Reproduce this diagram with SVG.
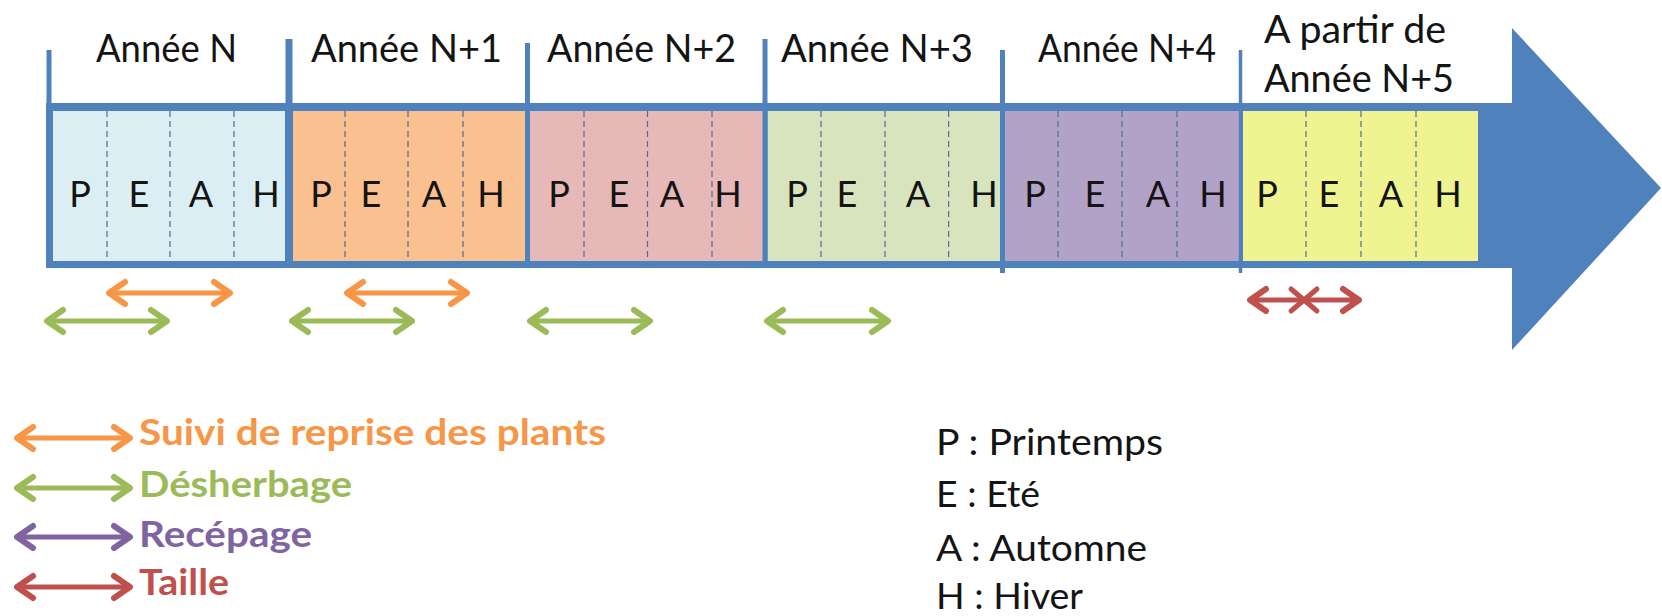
<svg xmlns="http://www.w3.org/2000/svg" width="1662" height="616" viewBox="0 0 1662 616">
<style>
text { font-family: Lato, "Open Sans", "Liberation Sans", sans-serif; fill: #141414; }
.yl { font-size: 38px; }
.s { font-size: 36px; text-anchor: middle; }
.lg { font-size: 36px; font-weight: bold; }
.lk { font-size: 36px; }
.cell { stroke: none; }
.dash { stroke: #4f6c95; stroke-width: 1.2; stroke-dasharray: 6 4; }
.div { stroke: #4F81BD; fill: none; }
.act { fill: none; stroke-width: 5; }
.or { stroke: #F79646; }
.gr { stroke: #9BBB59; }
.pu { stroke: #8064A2; }
.rd { stroke: #C0504D; }
</style>
<defs>
<marker id="hOr" viewBox="0 0 22 28" refX="19" refY="14" markerWidth="22" markerHeight="28" markerUnits="userSpaceOnUse" orient="auto-start-reverse" overflow="visible"><path d="M3,3 L19,14 L3,25" fill="none" stroke="#F79646" stroke-width="6" stroke-linecap="round" stroke-linejoin="round"/></marker>
<marker id="hGr" viewBox="0 0 22 28" refX="19" refY="14" markerWidth="22" markerHeight="28" markerUnits="userSpaceOnUse" orient="auto-start-reverse" overflow="visible"><path d="M3,3 L19,14 L3,25" fill="none" stroke="#9BBB59" stroke-width="6" stroke-linecap="round" stroke-linejoin="round"/></marker>
<marker id="hPu" viewBox="0 0 22 28" refX="19" refY="14" markerWidth="22" markerHeight="28" markerUnits="userSpaceOnUse" orient="auto-start-reverse" overflow="visible"><path d="M3,3 L19,14 L3,25" fill="none" stroke="#8064A2" stroke-width="6" stroke-linecap="round" stroke-linejoin="round"/></marker>
<marker id="hRd" viewBox="0 0 22 28" refX="19" refY="14" markerWidth="22" markerHeight="28" markerUnits="userSpaceOnUse" orient="auto-start-reverse" overflow="visible"><path d="M3,3 L19,14 L3,25" fill="none" stroke="#C0504D" stroke-width="6" stroke-linecap="round" stroke-linejoin="round"/></marker>
</defs>

<g id="timeline-arrow">
<path d="M46,103 H1512 V28 L1661,188 L1512,350 V268 H46 Z" fill="#4F81BD"/>
</g>

<g id="year-N">
<rect class="cell" x="53" y="111" width="232" height="150" fill="#DBEEF4"/>
<line class="dash" x1="107" y1="111" x2="107" y2="261"/>
<line class="dash" x1="170" y1="111" x2="170" y2="261"/>
<line class="dash" x1="234" y1="111" x2="234" y2="261"/>
<text class="s" x="80" y="207">P</text><text class="s" x="139" y="207">E</text><text class="s" x="201" y="207">A</text><text class="s" x="266" y="207">H</text>
<text class="yl" x="96" y="62" textLength="141" lengthAdjust="spacingAndGlyphs">Année N</text>
</g>

<g id="year-N1">
<rect class="cell" x="293" y="111" width="232" height="150" fill="#FAC090"/>
<line class="dash" x1="345" y1="111" x2="345" y2="261"/>
<line class="dash" x1="408" y1="111" x2="408" y2="261"/>
<line class="dash" x1="463" y1="111" x2="463" y2="261"/>
<text class="s" x="321" y="207">P</text><text class="s" x="371" y="207">E</text><text class="s" x="434" y="207">A</text><text class="s" x="491" y="207">H</text>
<text class="yl" x="311" y="62" textLength="191" lengthAdjust="spacingAndGlyphs">Année N+1</text>
</g>

<g id="year-N2">
<rect class="cell" x="530" y="111" width="233" height="150" fill="#E6B9B8"/>
<line class="dash" x1="584" y1="111" x2="584" y2="261"/>
<line class="dash" x1="647.5" y1="111" x2="647.5" y2="261"/>
<line class="dash" x1="712" y1="111" x2="712" y2="261"/>
<text class="s" x="559" y="207">P</text><text class="s" x="619" y="207">E</text><text class="s" x="672" y="207">A</text><text class="s" x="728" y="207">H</text>
<text class="yl" x="547" y="62" textLength="189" lengthAdjust="spacingAndGlyphs">Année N+2</text>
</g>

<g id="year-N3">
<rect class="cell" x="767.5" y="111" width="232.5" height="150" fill="#D7E4BD"/>
<line class="dash" x1="821" y1="111" x2="821" y2="261"/>
<line class="dash" x1="885" y1="111" x2="885" y2="261"/>
<line class="dash" x1="948.6" y1="111" x2="948.6" y2="261"/>
<text class="s" x="797" y="207">P</text><text class="s" x="847" y="207">E</text><text class="s" x="918" y="207">A</text><text class="s" x="984" y="207">H</text>
<text class="yl" x="781" y="62" textLength="192" lengthAdjust="spacingAndGlyphs">Année N+3</text>
</g>

<g id="year-N4">
<rect class="cell" x="1005" y="111" width="234" height="150" fill="#B3A2C7"/>
<line class="dash" x1="1058" y1="111" x2="1058" y2="261"/>
<line class="dash" x1="1122" y1="111" x2="1122" y2="261"/>
<line class="dash" x1="1177" y1="111" x2="1177" y2="261"/>
<text class="s" x="1035" y="207">P</text><text class="s" x="1095" y="207">E</text><text class="s" x="1158" y="207">A</text><text class="s" x="1213" y="207">H</text>
<text class="yl" x="1038" y="62" textLength="178" lengthAdjust="spacingAndGlyphs">Année N+4</text>
</g>

<g id="year-N5">
<rect class="cell" x="1243" y="111" width="235" height="150" fill="#EFF491"/>
<line class="dash" x1="1306" y1="111" x2="1306" y2="261"/>
<line class="dash" x1="1361" y1="111" x2="1361" y2="261"/>
<line class="dash" x1="1416" y1="111" x2="1416" y2="261"/>
<text class="s" x="1267" y="207">P</text><text class="s" x="1329" y="207">E</text><text class="s" x="1391" y="207">A</text><text class="s" x="1448" y="207">H</text>
<text class="yl" x="1264" y="43" textLength="182" lengthAdjust="spacingAndGlyphs">A partir de</text>
<text class="yl" x="1264" y="92" textLength="190" lengthAdjust="spacingAndGlyphs">Année N+5</text>
</g>

<g id="dividers">
<line class="div" x1="49" y1="50" x2="49" y2="268" stroke-width="5"/>
<line class="div" x1="289" y1="39" x2="289" y2="268" stroke-width="7"/>
<line class="div" x1="527.5" y1="43" x2="527.5" y2="268" stroke-width="5"/>
<line class="div" x1="765" y1="39" x2="765" y2="268" stroke-width="5"/>
<line class="div" x1="1002.5" y1="50" x2="1002.5" y2="273" stroke-width="5"/>
<line class="div" x1="1240.5" y1="50" x2="1240.5" y2="273" stroke-width="3.5"/>
</g>

<g id="connectors">
<line class="act or" x1="109" y1="293" x2="230" y2="293" marker-start="url(#hOr)" marker-end="url(#hOr)"/>
<line class="act or" x1="347" y1="293" x2="467" y2="293" marker-start="url(#hOr)" marker-end="url(#hOr)"/>
<line class="act gr" x1="47" y1="321" x2="167" y2="321" marker-start="url(#hGr)" marker-end="url(#hGr)"/>
<line class="act gr" x1="292" y1="321" x2="412" y2="321" marker-start="url(#hGr)" marker-end="url(#hGr)"/>
<line class="act gr" x1="530" y1="321" x2="650" y2="321" marker-start="url(#hGr)" marker-end="url(#hGr)"/>
<line class="act gr" x1="767" y1="321" x2="888" y2="321" marker-start="url(#hGr)" marker-end="url(#hGr)"/>
<line class="act rd" x1="1250" y1="300" x2="1359" y2="300" marker-start="url(#hRd)" marker-end="url(#hRd)"/>
<path class="act rd" d="M1291,289 L1317,311 M1291,311 L1317,289" stroke-width="5" stroke-linecap="round"/>
</g>

<g id="legend-activities">
<line class="act or" x1="17" y1="438" x2="130" y2="438" marker-start="url(#hOr)" marker-end="url(#hOr)"/>
<text class="lg" x="139" y="445" textLength="467" lengthAdjust="spacingAndGlyphs" style="fill:#F79646">Suivi de reprise des plants</text>
<line class="act gr" x1="17" y1="488" x2="130" y2="488" marker-start="url(#hGr)" marker-end="url(#hGr)"/>
<text class="lg" x="139" y="497" textLength="213" lengthAdjust="spacingAndGlyphs" style="fill:#9BBB59">Désherbage</text>
<line class="act pu" x1="17" y1="537" x2="130" y2="537" marker-start="url(#hPu)" marker-end="url(#hPu)"/>
<text class="lg" x="139" y="547" textLength="173" lengthAdjust="spacingAndGlyphs" style="fill:#8064A2">Recépage</text>
<line class="act rd" x1="17" y1="587" x2="130" y2="587" marker-start="url(#hRd)" marker-end="url(#hRd)"/>
<text class="lg" x="139" y="595" textLength="90" lengthAdjust="spacingAndGlyphs" style="fill:#C0504D">Taille</text>
</g>

<g id="legend-seasons">
<text class="lk" x="936" y="455" textLength="227" lengthAdjust="spacingAndGlyphs">P : Printemps</text>
<text class="lk" x="936" y="507" textLength="104" lengthAdjust="spacingAndGlyphs">E : Eté</text>
<text class="lk" x="936" y="561" textLength="211" lengthAdjust="spacingAndGlyphs">A : Automne</text>
<text class="lk" x="936" y="609" textLength="147" lengthAdjust="spacingAndGlyphs">H : Hiver</text>
</g>
</svg>
